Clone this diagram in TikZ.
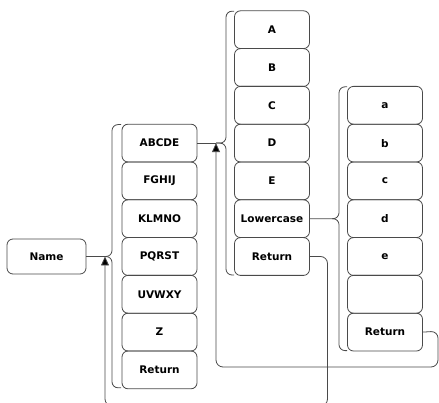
\documentclass[tikz,border=0pt]{standalone}
\usepackage{fontspec}
\setmainfont{DejaVu Sans}
\usetikzlibrary{arrows.meta}
\definecolor{linegray}{HTML}{4A4A4A}
\tikzset{
  menubox/.style={draw=linegray, line width=0.8pt, rounded corners=6pt,
    minimum width=75pt, minimum height=37.8pt, inner sep=0pt,
    font=\fontsize{10.5}{11}\selectfont\bfseries},
  link/.style={draw=linegray, line width=0.8pt},
  bracket/.style={draw=linegray, line width=0.8pt, rounded corners=6pt},
  backarrow/.style={draw=linegray, line width=0.8pt, rounded corners=7pt,
    -{Triangle[length=9pt,width=8pt,fill=black]}}
}
\begin{document}
\begin{tikzpicture}[x=1pt,y=-1pt]
\useasboundingbox (0,0) rectangle (439,403);
\clip (0,0) rectangle (439,403);

% Menu
\node[menubox, minimum width=79pt, minimum height=35pt] (menu) at (46.5,256.5) {Name};

% Column 1
\foreach \t [count=\k from 0] in {ABCDE,FGHIJ,KLMNO,PQRST,UVWXY,Z,Return}
  \node[menubox] (a\k) at (159.5,143.1+37.8*\k) {\t};

% Column 2
\foreach \t [count=\k from 0] in {A,B,C,D,E,Lowercase,Return}
  \node[menubox] (b\k) at (272,29.7+37.8*\k) {\t};

% Column 3
\foreach \t [count=\k from 0] in {a,b,c,d,e,{},Return}
  \node[menubox] (c\k) at (385,105.3+37.8*\k) {\t};

% cusp points
\coordinate (k1) at (105,256.5);
\coordinate (k2) at (216,143.1);
\coordinate (k3) at (332,218.7);

% Brackets
\draw[bracket] (121,124.6) -- (112,124.6) -- (112,256.5) -- (k1);
\draw[bracket] (k1) -- (112,256.5) -- (112,387.8) -- (121,387.8);

\draw[bracket] (234,11.2) -- (226,11.2) -- (226,143.1) -- (k2);
\draw[bracket] (k2) -- (226,143.1) -- (226,275) -- (234,275);

\draw[bracket] (347,86.8) -- (339,86.8) -- (339,218.7) -- (k3);
\draw[bracket] (k3) -- (339,218.7) -- (339,350.6) -- (347,350.6);

% Connectors
\draw[link] (menu.east) -- (k1);
\draw[link] (a0.east) -- (k2);
\draw[link] (b5.east) -- (k3);

% Return loops
\draw[backarrow] (b6.east) -- (327.5,256.5) -- (327.5,406) -| (k1);
\draw[backarrow] (c6.east) -- (438,331.2) -- (438,367) -| (k2);
\end{tikzpicture}
\end{document}
